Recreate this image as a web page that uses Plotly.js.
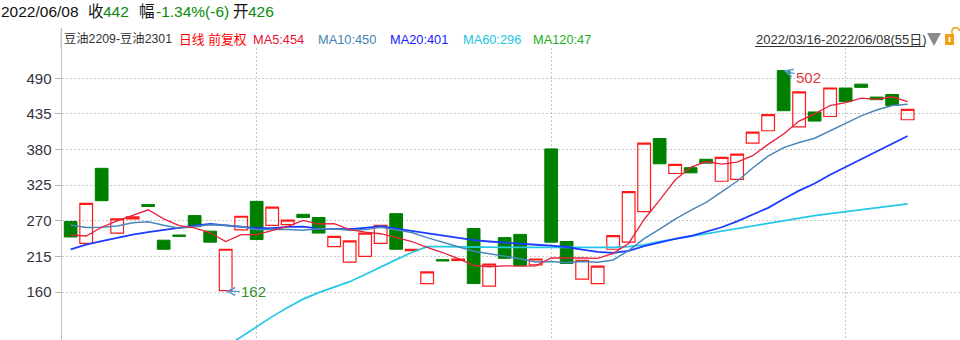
<!DOCTYPE html>
<html>
<head>
<meta charset="utf-8">
<script src="https://cdn.plot.ly/plotly-3.0.1.min.js"></script>
<style>
html,body{margin:0;padding:0;background:#fff;}
#chart{width:960px;height:340px;}
</style>
</head>
<body>
<div id="chart"></div>
<script>
// ---- data ----
const dates = [
 "2022/03/16","2022/03/17","2022/03/18","2022/03/21","2022/03/22","2022/03/23","2022/03/24","2022/03/25","2022/03/28","2022/03/29","2022/03/30","2022/03/31",
 "2022/04/01","2022/04/06","2022/04/07","2022/04/08","2022/04/11","2022/04/12","2022/04/13","2022/04/14","2022/04/15","2022/04/18","2022/04/19","2022/04/20","2022/04/21","2022/04/22","2022/04/25","2022/04/26","2022/04/27","2022/04/28","2022/04/29",
 "2022/05/05","2022/05/06","2022/05/09","2022/05/10","2022/05/11","2022/05/12","2022/05/13","2022/05/16","2022/05/17","2022/05/18","2022/05/19","2022/05/20","2022/05/23","2022/05/24","2022/05/25","2022/05/26","2022/05/27","2022/05/30","2022/05/31",
 "2022/06/01","2022/06/02","2022/06/06","2022/06/07","2022/06/08"
];
const openVals  = [269,235,351,251,273,295,240,248,278,254,162,256,300,263,264,280,275,230,206,215,235,281,224,173,210,209,258,169,244,249,202,381,238,180,173,226,237,284,397,343,352,365,331,334,390,409,502,415,438,431,475,481,461,465,426];
const closeVals = [245,297,301,273,276,292,226,246,261,237,226,277,241,291,271,275,251,246,239,251,263,226,226,191,208,211,173,203,212,201,211,237,204,209,200,247,315,390,358,357,344,359,368,373,407,434,440,469,424,475,454,476,457,448,442];
const highVals  = [269,297,351,273,276,295,240,248,278,254,226,277,300,291,271,280,275,246,239,251,263,281,226,191,210,211,258,203,244,249,211,381,238,209,200,247,315,390,397,357,352,365,368,373,407,434,502,469,438,475,475,481,461,465,442];
const lowVals   = [245,235,301,251,273,292,226,246,261,237,162,256,241,263,264,275,251,230,206,215,235,226,224,173,208,209,173,169,212,201,202,237,204,180,173,226,237,284,358,343,344,359,331,334,390,409,440,415,424,431,454,476,457,448,426];

const ma5  = [248,246.5,260,270,278.5,287,273,262.5,259,251.5,238,248.5,248.5,254.5,261.5,270.5,265,265.5,256.5,252.5,250,244.5,238,229,221,211.5,201,199,200.5,200,200.5,212.5,213,212.5,212,219.5,235,272,302,333,352.5,361.5,357.5,360.5,370.5,388,404,424,435,448,452.5,459.5,457.5,461.5,454];
const ma10 = [263.5,259.5,260,262,267,268.5,263,258.5,261,264,263,261,256,257,256.5,255.5,257.5,257.5,255.5,256.5,260,255.5,252,244,237.5,230,223,219,216,211.5,206.5,207,205,207,206,209.5,224,242.5,257,272.5,286,298.5,314.5,331,351.5,370,383,391,397.5,409,420,432,441,448,450];
const ma20 = [226,233,238.5,244,248.5,252.5,256,259.5,262.5,265,263,261,258.5,258.5,260.5,261,258,257.5,257,259,261.5,258,254.5,250.5,247,243,240,238,236,234,233,231.5,229.5,225.5,222,220.5,223.5,231,237,242,246.5,253,260,269,279,290,303.5,316.5,327.5,341,353,365,378,390,401];
const ma60 = [null,null,null,null,null,null,null,null,null,null,75,91,107,122,136,149,159,168,176,187,199,210,221,230,230,229.5,229,229,229,229,229,229,229,229,228.5,229,230,233,238,242,246,250.5,255,259,263,267,271,275,278,281,284,287,289.5,292.5,296];

const yTicks = [160,215,270,325,380,435,490];
const monthStarts = ["2022/04/01","2022/05/05","2022/06/01"];

// ---- helpers: pixel -> paper ----
const L = 62, T = 48, W = 898, H = 292;
const px = x => (x - L) / W;
const py = y => (340 - y) / H;
const FONT = "Liberation Sans, Arial, 'Noto Sans CJK SC', sans-serif";

function seg(text, x, yPix, color, size) {
  return {xref:'paper', yref:'paper', x:px(x), y:py(yPix), xanchor:'left', yanchor:'middle',
          text:text, showarrow:false, font:{family:FONT, size:size, color:color}};
}

const annotations = [
  seg("2022/06/08", -1, 11, "#111", 15.5),
  seg("收", 86, 11, "#111", 15.5),
  seg("442", 101, 11, "#0a8a0a", 15.5),
  seg("幅", 137, 11, "#111", 15.5),
  seg("-1.34%(-6)", 154, 11, "#0a8a0a", 15.5),
  seg("开", 231, 11, "#111", 15.5),
  seg("426", 246, 11, "#0a8a0a", 15.5),

  seg("豆油2209-豆油2301", 62, 39, "#333", 12.3),
  seg("日线 前复权", 177, 39, "#ff0000", 12.8),
  seg("MA5:454", 251, 39, "#e8102e", 12.8),
  seg("MA10:450", 316, 39, "#4682b4", 12.8),
  seg("MA20:401", 388, 39, "#1a1aff", 12.8),
  seg("MA60:296", 461, 39, "#22c4e0", 12.8),
  seg("MA120:47", 531, 39, "#22b022", 12.8),
  seg("2022/03/16-2022/06/08(55日)", 754, 39, "#333", 13),

  {x:"2022/03/30", y:161, xref:'x', yref:'y', text:"162", showarrow:true, ax:28, ay:0,
   arrowhead:5, arrowsize:1.1, arrowwidth:1.4, arrowcolor:"#5b9bd5", standoff:0,
   font:{family:FONT, size:15, color:"#2e8f2e"}},
  {x:"2022/05/26", y:502, xref:'x', yref:'y', text:"502", showarrow:true, ax:25, ay:7,
   arrowhead:5, arrowsize:1.1, arrowwidth:1.4, arrowcolor:"#5b9bd5", standoff:0,
   font:{family:FONT, size:15, color:"#e03c3c"}}
];

function pathOf(pts, close) {
  return pts.map((p,i) => (i ? 'L' : 'M') + px(p[0]) + ',' + py(p[1])).join(' ') + (close ? ' Z' : '');
}

const shapes = [
  {type:'line', xref:'paper', yref:'paper', x0:px(61.3), x1:px(61.3), y0:py(48), y1:py(28), line:{color:'#c4c4c4', width:1.5}},
  {type:'line', xref:'paper', yref:'paper', x0:px(755), x1:px(925), y0:py(46.5), y1:py(46.5), line:{color:'#333', width:1}},
  {type:'path', xref:'paper', yref:'paper', path:pathOf([[927,33],[941,33],[934,46]], true), fillcolor:'#8a8a8a', line:{width:0}},
  {type:'rect', xref:'paper', yref:'paper', x0:px(945), x1:px(954), y0:py(45), y1:py(34), fillcolor:'#f0a010', line:{width:0}},
  {type:'rect', xref:'paper', yref:'paper', x0:px(948.5), x1:px(950.5), y0:py(42), y1:py(37), fillcolor:'#ffffff', line:{width:0}},
  {type:'path', xref:'paper', yref:'paper', path:pathOf([[952,34],[952,30],[953.5,28],[956,27.5],[958.5,28.5],[959.5,31]], false), line:{color:'#f0a010', width:1.5}}
];

const traces = [
  {type:'candlestick', x:dates, open:openVals, high:highVals, low:lowVals, close:closeVals,
   increasing:{line:{color:'#ff1a1a', width:1.2}, fillcolor:'rgba(255,255,255,0)'},
   decreasing:{line:{color:'#008000', width:1}, fillcolor:'#008000'},
   whiskerwidth:0, hoverinfo:'skip', showlegend:false},
  {type:'scatter', mode:'lines', x:dates, y:ma60, line:{color:'#22c8e6', width:1.7}, hoverinfo:'skip'},
  {type:'scatter', mode:'lines', x:dates, y:ma20, line:{color:'#1a3cff', width:1.8}, hoverinfo:'skip'},
  {type:'scatter', mode:'lines', x:dates, y:ma10, line:{color:'#4a86bc', width:1.5}, hoverinfo:'skip'},
  {type:'scatter', mode:'lines', x:dates, y:ma5, line:{color:'#e8203c', width:1.3}, hoverinfo:'skip'}
];

const layout = {
  width:960, height:340,
  margin:{l:L, r:0, t:T, b:0, pad:0},
  paper_bgcolor:'#ffffff', plot_bgcolor:'#ffffff',
  showlegend:false, hovermode:false,
  boxgap:0.18, boxgroupgap:0,
  font:{family:FONT},
  xaxis:{type:'category', range:[-0.56, 57.38], rangeslider:{visible:false},
         tickvals:monthStarts, showticklabels:false, ticks:'',
         showgrid:true, gridcolor:'#c6c6c6', griddash:'2px,2px', gridwidth:1,
         zeroline:false, showline:false, fixedrange:true},
  yaxis:{range:[85.9, 536.8], tickvals:yTicks, ticktext:yTicks.map(String),
         ticks:'outside', ticklen:6, tickcolor:'#b4b4b4', tickwidth:1,
         showline:true, linecolor:'#c4c4c4', linewidth:1.5,
         showgrid:true, gridcolor:'#c6c6c6', griddash:'2px,2px', gridwidth:1,
         zeroline:false, fixedrange:true,
         tickfont:{family:FONT, size:15, color:'#333340'}},
  annotations:annotations,
  shapes:shapes
};

Plotly.newPlot('chart', traces, layout, {displayModeBar:false, staticPlot:true});
</script>
</body>
</html>
